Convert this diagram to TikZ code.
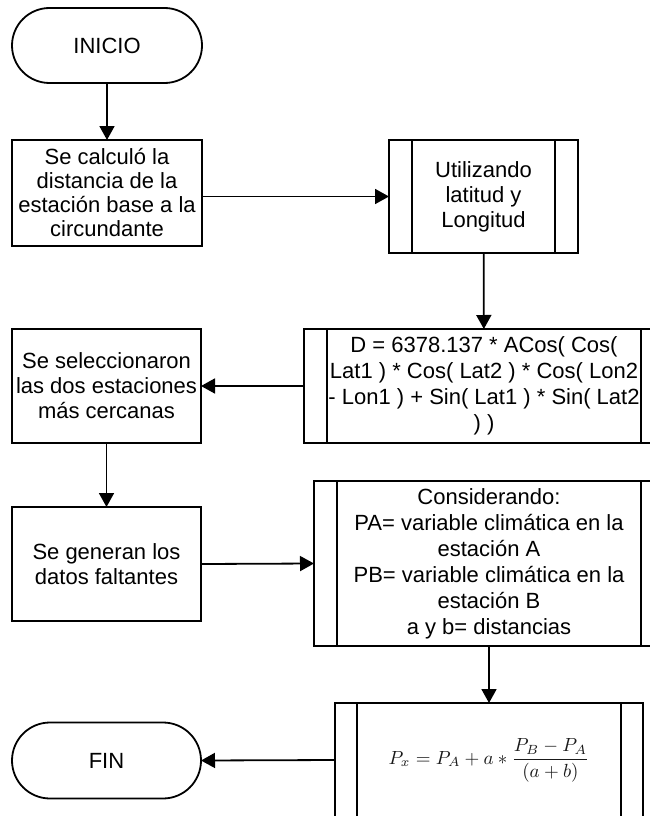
\documentclass[tikz,border=0pt]{standalone}
\usepackage{fontspec}
\setmainfont{Liberation Sans}
\usetikzlibrary{arrows.meta,positioning}
\begin{document}
\begin{tikzpicture}[x=1pt,y=-1pt,
  every node/.style={inner sep=0pt,outer sep=0pt},
  base/.style={draw=black,line width=1.8pt,align=center,
    font=\fontsize{22}{25}\selectfont},
  terminal/.style={base,rounded corners=#1},
  procbox/.style={base,rectangle},
  flow/.style={line width=1.8pt,-{Triangle[length=14pt,width=15pt]}},
  sidebar/.style={line width=1.8pt}]
\useasboundingbox (0,0) rectangle (650,816);
\fill[white] (0,0) rectangle (650,816);

% start / end terminals
\node[terminal=37.5pt,minimum width=190pt,minimum height=75pt] (inicio) at (107,45.5) {INICIO};
\node[terminal=38pt,minimum width=189pt,minimum height=76pt] (fin) at (106.5,760.5) {FIN};

% left column of process steps
\node[procbox,minimum width=190pt,minimum height=106pt,
  font=\fontsize{22}{24}\selectfont] (calc) at (107,193)
  {Se calculó la\\distancia de la\\estación base a la\\circundante};
\node[procbox,minimum width=189pt,minimum height=114pt] (sel) at (106.5,386)
  {Se seleccionaron\\las dos estaciones\\más cercanas};
\node[procbox,minimum width=189pt,minimum height=114pt] (gen) at (106.5,564)
  {Se generan los\\datos faltantes};

% predefined processes on the right
\node[procbox,minimum width=189pt,minimum height=113pt] (lat) at (483.5,196.5)
  {Utilizando\\latitud y\\Longitud};
\node[procbox,minimum width=360pt,minimum height=114pt,
  font=\fontsize{22}{26}\selectfont] (dist) at (484,386)
  {D = 6378.137 * ACos( Cos(\\Lat1 ) * Cos( Lat2 ) * Cos( Lon2\\- Lon1 ) + Sin( Lat1 ) * Sin( Lat2\\) )};
\node[procbox,minimum width=350pt,minimum height=165pt,
  font=\fontsize{22}{26}\selectfont] (cons) at (489,563.5)
  {Considerando:\\PA= variable climática en la\\estación A\\PB= variable climática en la\\estación B\\a y b= distancias};
\node[procbox,minimum width=308pt,minimum height=114pt] (form) at (489,760)
  {\color{black!90}\normalsize\scalebox{1.9}{$\displaystyle P_x = P_A + a * \frac{P_B - P_A}{(a+b)}$}};

% inner side bars of the predefined processes
\foreach \n/\d in {lat/23,dist/23,cons/23,form/22}{
  \draw[sidebar] ([xshift=\d pt]\n.north west) -- ([xshift=\d pt]\n.south west);
  \draw[sidebar] ([xshift=-\d pt]\n.north east) -- ([xshift=-\d pt]\n.south east);
}

% connectors
\draw[flow] (inicio) -- (calc);
\draw[flow] (calc.east |- lat.west) -- (lat.west);
\draw[flow] (lat) -- (dist);
\draw[flow] (dist.west) -- (sel.east);
\draw[flow] (sel) -- (gen);
\draw[flow] (gen.east) -- (cons.west);
\draw[flow] (cons) -- (form);
\draw[flow] (form.west) -- (fin.east);
\end{tikzpicture}
\end{document}
